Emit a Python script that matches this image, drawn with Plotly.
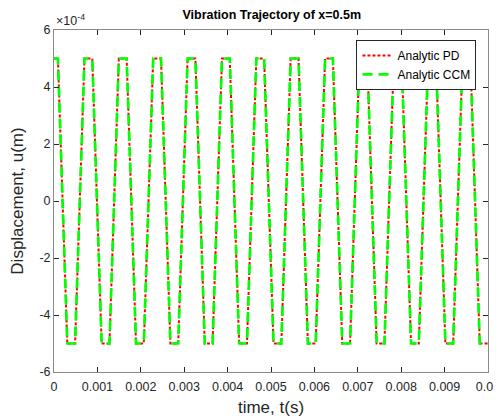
import plotly.graph_objects as go

# corner times of the trajectory (s)
time_s = [0, 0.00009, 0.000306, 0.000486, 0.000702, 0.000882, 0.001098, 0.001278,
          0.001494, 0.001674, 0.00189, 0.00207, 0.002286, 0.002466, 0.002682, 0.002862,
          0.003078, 0.003258, 0.003474, 0.003654, 0.00387, 0.00405, 0.004266, 0.004446,
          0.004662, 0.004842, 0.005058, 0.005238, 0.005454, 0.005634, 0.00585, 0.00603,
          0.006246, 0.006426, 0.006642, 0.006822, 0.007038, 0.007218, 0.007434, 0.007614,
          0.00783, 0.00801, 0.008226, 0.008406, 0.008622, 0.008802, 0.009018, 0.009198,
          0.009414, 0.009594, 0.00981, 0.01]

# displacement (m)
pd_disp = [5e-4, 5e-4, -5e-4, -5e-4] * 13
ccm_disp = [5e-4, 5e-4, -5e-4, -5e-4] * 13

x_tickvals = [0, 0.001, 0.002, 0.003, 0.004, 0.005, 0.006, 0.007, 0.008, 0.009, 0.01]
x_ticktext = ["0", "0.001", "0.002", "0.003", "0.004", "0.005", "0.006", "0.007",
              "0.008", "0.009", "0.01"]
y_tickvals = [-6e-4, -4e-4, -2e-4, 0, 2e-4, 4e-4, 6e-4]
y_ticktext = ["-6", "-4", "-2", "0", "2", "4", "6"]

FONT = "Liberation Sans, Arial, Helvetica, sans-serif"
AX = "#262626"

fig = go.Figure()
fig.add_trace(go.Scatter(x=time_s, y=pd_disp, mode="lines", name="Analytic PD",
                         line=dict(color="rgb(255,0,0)", width=2, dash="3px,2px")))
fig.add_trace(go.Scatter(x=time_s, y=ccm_disp, mode="lines", name="Analytic CCM",
                         line=dict(color="rgb(0,255,0)", width=2.7, dash="10px,6px")))

axis_common = dict(showgrid=False, zeroline=False, showline=True, linecolor="#8a8a8a",
                   linewidth=1, mirror="allticks", ticks="inside", ticklen=5,
                   tickcolor=AX, automargin=False,
                   tickfont=dict(family=FONT, size=12.5, color=AX))

# page body has an 8px margin, so the figure is sized/offset to compensate
fig.update_layout(
    width=493, height=412,
    margin=dict(l=46, r=13, t=22, b=48),
    paper_bgcolor="white", plot_bgcolor="white",
    font=dict(family=FONT, color=AX),
    title=dict(text="<b>Vibration Trajectory of x=0.5m</b>", x=0.535, xanchor="center",
               y=0.985, yanchor="middle", font=dict(family=FONT, size=12.5, color="black")),
    xaxis=dict(range=[0, 0.01], tickvals=x_tickvals, ticktext=x_ticktext,
               ticklabelstandoff=3,
               title=dict(text="time, t(s)", font=dict(family=FONT, size=17, color=AX),
                          standoff=8),
               **axis_common),
    yaxis=dict(range=[-6e-4, 6e-4], tickvals=y_tickvals, ticktext=y_ticktext,
               title=dict(text="Displacement, u(m)", font=dict(family=FONT, size=17, color=AX),
                          standoff=14),
               **axis_common),
    legend=dict(x=0.697, y=0.971, xanchor="left", yanchor="top",
                bgcolor="white", bordercolor=AX, borderwidth=1,
                font=dict(family=FONT, size=12, color="black"),
                itemwidth=30, tracegroupgap=0),
    showlegend=True,
)

fig.add_annotation(text="×10<sup>-4</sup>", xref="paper", yref="paper", x=0, y=1,
                   xanchor="left", yanchor="bottom", showarrow=False, yshift=0,
                   font=dict(family=FONT, size=12.5, color=AX))

fig.write_html("out.html")
